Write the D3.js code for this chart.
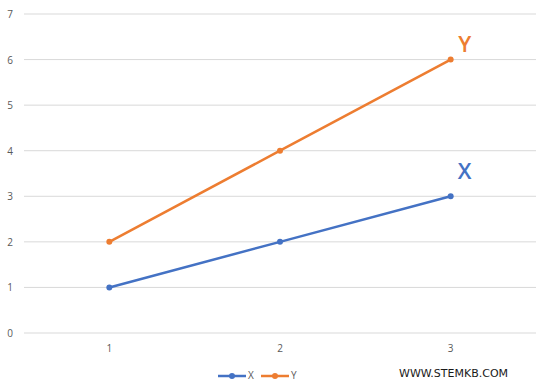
<!DOCTYPE html>
<html>
<head>
<meta charset="utf-8">
<script src="https://cdn.jsdelivr.net/npm/d3@7"></script>
<style>
  body { margin: 0; background: #fff; }
  text { font-family: "Open Sans", "Liberation Sans", sans-serif; }
</style>
</head>
<body>
<div id="chart"></div>
<script>
// Data
let categories = ["1", "2", "3"];
let xValues = [1, 2, 3];
let yValues = [2, 4, 6];
let yTicks = [0, 1, 2, 3, 4, 5, 6, 7];

let series = [
    {name: "X", values: xValues, color: "#4472C4", labelDy: -17},
    {name: "Y", values: yValues, color: "#ED7D31", labelDy: -8}
];

let width = 550;
let height = 390;

let svg = d3.select("#chart")
            .append("svg")
            .attr("width", width)
            .attr("height", height);

let xScale = d3.scaleBand()
                .domain(categories)
                .range([24, 536]);

let yScale = d3.scaleLinear()
                .domain([0, 7])
                .range([333, 14]);

// Gridlines
svg.append("g")
    .selectAll("line")
    .data(yTicks)
    .enter()
    .append("line")
    .attr("x1", 24)
    .attr("x2", 536)
    .attr("y1", d => yScale(d))
    .attr("y2", d => yScale(d))
    .attr("stroke", "#d9d9d9")
    .attr("stroke-width", 1);

// Y axis labels
svg.append("g")
    .selectAll("text")
    .data(yTicks)
    .enter()
    .append("text")
    .attr("x", 10)
    .attr("y", d => yScale(d) + 4)
    .attr("text-anchor", "middle")
    .attr("font-size", 10)
    .attr("fill", "#595959")
    .text(d => d);

// X axis labels
svg.append("g")
    .selectAll("text")
    .data(categories)
    .enter()
    .append("text")
    .attr("x", d => xScale(d) + xScale.bandwidth() / 2)
    .attr("y", 352)
    .attr("text-anchor", "middle")
    .attr("font-size", 10)
    .attr("fill", "#595959")
    .text(d => d);

let line = d3.line()
    .x((d, i) => xScale(categories[i]) + xScale.bandwidth() / 2)
    .y(d => yScale(d));

series.forEach(s => {
    svg.append("path")
        .datum(s.values)
        .attr("fill", "none")
        .attr("stroke", s.color)
        .attr("stroke-width", 2.5)
        .attr("stroke-linecap", "round")
        .attr("d", line);

    svg.append("g")
        .selectAll("circle")
        .data(s.values)
        .enter()
        .append("circle")
        .attr("cx", (d, i) => xScale(categories[i]) + xScale.bandwidth() / 2)
        .attr("cy", d => yScale(d))
        .attr("r", 3)
        .attr("fill", s.color);

    // Series label near the last point
    let last = s.values[s.values.length - 1];
    svg.append("text")
        .attr("x", xScale(categories[categories.length - 1]) + xScale.bandwidth() / 2 + 14)
        .attr("y", yScale(last) + s.labelDy)
        .attr("text-anchor", "middle")
        .attr("font-size", 22)
        .attr("font-weight", 600)
        .attr("fill", s.color)
        .text(s.name);
});

// Legend
let legend = svg.append("g");
series.forEach((s, i) => {
    let x0 = 218 + i * 43;
    legend.append("line")
        .attr("x1", x0)
        .attr("x2", x0 + 28)
        .attr("y1", 376)
        .attr("y2", 376)
        .attr("stroke", s.color)
        .attr("stroke-width", 2.5);
    legend.append("circle")
        .attr("cx", x0 + 14)
        .attr("cy", 376)
        .attr("r", 3)
        .attr("fill", s.color);
    legend.append("text")
        .attr("x", x0 + 30)
        .attr("y", 379)
        .attr("font-size", 10)
        .attr("fill", "#595959")
        .text(s.name);
});

svg.append("text")
    .attr("x", 399)
    .attr("y", 377)
    .style("font-family", "DejaVu Sans, sans-serif")
    .attr("font-size", 11)
    .attr("fill", "#1a1a1a")
    .text("WWW.STEMKB.COM");
</script>
</body>
</html>
